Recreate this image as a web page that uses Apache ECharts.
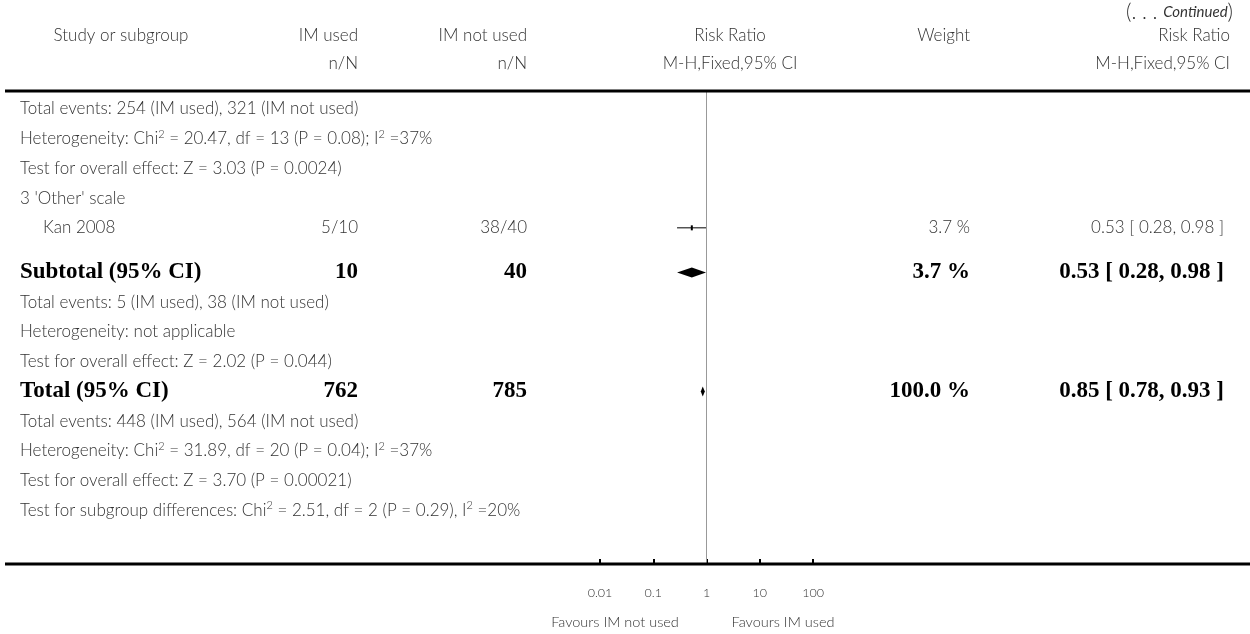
<!DOCTYPE html>
<html>
<head>
<meta charset="utf-8">
<script src="https://cdn.jsdelivr.net/npm/echarts@6/dist/echarts.min.js"></script>
<style>html,body{margin:0;padding:0;background:#fff}#c{width:1250px;height:634px}</style>
</head>
<body>
<div id="c"></div>
<script>
// ---- data ----
const rowPos = [0, 1, 2, 3, 4, 5.5, 6.5, 7.5, 8.5, 9.5, 10.5, 11.5, 12.5, 13.5];
const rowKind = ['note','note','note','note','study','bold','note','note','note','bold','note','note','note','note'];
const rowText = [
  'Total events: 254 (IM used), 321 (IM not used)',
  'Heterogeneity: Chi{s|2} = 20.47, df = 13 (P = 0.08); I{s|2} =37%',
  'Test for overall effect: Z = 3.03 (P = 0.0024)',
  "3 'Other' scale",
  'Kan 2008',
  'Subtotal (95% CI)',
  'Total events: 5 (IM used), 38 (IM not used)',
  'Heterogeneity: not applicable',
  'Test for overall effect: Z = 2.02 (P = 0.044)',
  'Total (95% CI)',
  'Total events: 448 (IM used), 564 (IM not used)',
  'Heterogeneity: Chi{s|2} = 31.89, df = 20 (P = 0.04); I{s|2} =37%',
  'Test for overall effect: Z = 3.70 (P = 0.00021)',
  'Test for subgroup differences: Chi{s|2} = 2.51, df = 2 (P = 0.29), I{s|2} =20%'
];
const usedCol    = ['', '', '', '', '5/10', '10', '', '', '', '762', '', '', '', ''];
const notUsedCol = ['', '', '', '', '38/40', '40', '', '', '', '785', '', '', '', ''];
const weightCol  = ['', '', '', '', '3.7 %', '3.7 %', '', '', '', '100.0 %', '', '', '', ''];
const ciCol      = ['', '', '', '', '0.53 [ 0.28, 0.98 ]', '0.53 [ 0.28, 0.98 ]', '', '', '', '0.85 [ 0.78, 0.93 ]', '', '', '', ''];

const studyRow = [4];
const studyRR  = [0.53];
const studyLo  = [0.28];
const studyHi  = [0.98];

const diamondRow = [5.5, 9.5];
const diamondRR  = [0.53, 0.85];
const diamondLo  = [0.28, 0.78];
const diamondHi  = [0.98, 0.93];

const tickLabels = ['0.01', '0.1', '1', '10', '100'];

// ---- chart ----
const REG = 'Lato, "Open Sans", sans-serif';
const SERIF = '"Liberation Serif", "DejaVu Serif", serif';
const FS = 17;
const BFS = 23;
const TXT = '#333';
const COL_USED = 358, COL_NOT = 527, COL_W = 970, COL_CI = 1224, COL_HDR_R = 1230;
const chart = echarts.init(document.getElementById('c'), null, {renderer: 'canvas'});

const supRich = {s: {fontSize: 11, fontFamily: REG, fontWeight: 300, fill: TXT, verticalAlign: 'top', lineHeight: 20}};

function textEl(text, x, y, align, kind) {
  const bold = kind === 'bold';
  return {
    type: 'text',
    style: {
      text: text, x: x, y: y, align: align, verticalAlign: 'middle',
      fill: bold ? '#000' : TXT,
      fontFamily: bold ? SERIF : REG,
      fontWeight: bold ? 'bold' : 300,
      fontSize: bold ? BFS : FS,
      rich: supRich
    }
  };
}
function hdr(text, x, y, align) {
  return {type: 'text', x: x, y: y, style: {text: text, align: align, verticalAlign: 'middle', fill: TXT, fontFamily: REG, fontWeight: 300, fontSize: FS}};
}

const tableData = rowPos.map((p, i) => [1, p, i]);
const studyData = studyRow.map((r, i) => [studyRR[i], r, studyLo[i], studyHi[i]]);
const diamondData = diamondRow.map((r, i) => [diamondRR[i], r, diamondLo[i], diamondHi[i]]);

const option = {
  animation: false,
  backgroundColor: '#fff',
  grid: {left: 600, width: 213, top: 91, bottom: 70, containLabel: false},
  xAxis: {
    type: 'log', logBase: 10, min: 0.01, max: 100, interval: 1,
    axisLine: {show: false, onZero: false},
    axisTick: {show: true, inside: true, length: 5, lineStyle: {color: '#000', width: 2}},
    splitLine: {show: false},
    minorTick: {show: false},
    axisLabel: {
      margin: 22, fontSize: 12.5, color: TXT, fontFamily: REG, fontWeight: 300,
      formatter: function (v) {
        const k = Math.round(Math.log10(v)) + 2;
        return tickLabels[k] !== undefined ? tickLabels[k] : '';
      }
    }
  },
  yAxis: {
    type: 'value', inverse: true, min: -0.6, max: 15.3, show: false
  },
  graphic: [
    {type: 'line', shape: {x1: 5, y1: 91, x2: 1250, y2: 91}, style: {stroke: '#000', lineWidth: 3}, z: 10},
    {type: 'line', shape: {x1: 5, y1: 564, x2: 1250, y2: 564}, style: {stroke: '#000', lineWidth: 3}, z: 10},
    {type: 'text', x: 1233, y: 12, style: {text: '(. . . {i|Continued})', align: 'right', verticalAlign: 'middle', fill: TXT, fontFamily: REG, fontWeight: 300, fontSize: 21,
      rich: {i: {fontStyle: 'italic', fontSize: 15, fontFamily: REG, fill: TXT}}}},
    hdr('Study or subgroup', 121, 36, 'center'),
    hdr('IM used', COL_USED, 36, 'right'),
    hdr('IM not used', COL_NOT, 36, 'right'),
    hdr('Risk Ratio', 730, 36, 'center'),
    hdr('Weight', COL_W, 36, 'right'),
    hdr('Risk Ratio', COL_HDR_R, 36, 'right'),
    hdr('n/N', COL_USED, 64, 'right'),
    hdr('n/N', COL_NOT, 64, 'right'),
    hdr('M-H,Fixed,95% CI', 730, 64, 'center'),
    hdr('M-H,Fixed,95% CI', COL_HDR_R, 64, 'right'),
    {type: 'text', x: 615, y: 622, style: {text: 'Favours IM not used', align: 'center', verticalAlign: 'middle', fill: TXT, fontFamily: REG, fontWeight: 300, fontSize: 14.5}},
    {type: 'text', x: 783, y: 622, style: {text: 'Favours IM used', align: 'center', verticalAlign: 'middle', fill: TXT, fontFamily: REG, fontWeight: 300, fontSize: 14.5}}
  ],
  series: [
    {
      type: 'custom', name: 'table', clip: false, silent: true,
      data: tableData,
      renderItem: function (params, api) {
        const i = api.value(2);
        const y = api.coord([1, api.value(1)])[1];
        const kind = rowKind[i];
        const kids = [];
        const x0 = kind === 'study' ? 43 : 20;
        kids.push(textEl(rowText[i], x0, y, 'left', kind));
        if (usedCol[i]) kids.push(textEl(usedCol[i], COL_USED, y, 'right', kind));
        if (notUsedCol[i]) kids.push(textEl(notUsedCol[i], COL_NOT, y, 'right', kind));
        if (weightCol[i]) kids.push(textEl(weightCol[i], COL_W, y, 'right', kind));
        if (ciCol[i]) kids.push(textEl(ciCol[i], COL_CI, y, 'right', kind));
        return {type: 'group', children: kids};
      },
      markLine: {
        silent: true, symbol: 'none', label: {show: false},
        lineStyle: {color: '#999', width: 1, type: 'solid'},
        data: [{xAxis: 1}]
      }
    },
    {
      type: 'custom', name: 'studies', clip: false, silent: true,
      data: studyData,
      renderItem: function (params, api) {
        const c = api.coord([api.value(0), api.value(1)]);
        const lo = api.coord([api.value(2), api.value(1)]);
        const hi = api.coord([api.value(3), api.value(1)]);
        return {type: 'group', children: [
          {type: 'line', shape: {x1: lo[0], y1: lo[1], x2: hi[0], y2: hi[1]}, style: {stroke: '#000', lineWidth: 1}},
          {type: 'rect', shape: {x: c[0] - 1, y: c[1] - 2.5, width: 2, height: 5}, style: {fill: '#000'}}
        ]};
      }
    },
    {
      type: 'custom', name: 'diamonds', clip: false, silent: true,
      data: diamondData,
      renderItem: function (params, api) {
        const c = api.coord([api.value(0), api.value(1)]);
        const lo = api.coord([api.value(2), api.value(1)]);
        const hi = api.coord([api.value(3), api.value(1)]);
        const h = 5;
        return {type: 'polygon', shape: {points: [[lo[0], c[1]], [c[0], c[1] - h], [hi[0], c[1]], [c[0], c[1] + h]]},
          style: {fill: '#000'}};
      }
    }
  ]
};
chart.setOption(option);
</script>
</body>
</html>
